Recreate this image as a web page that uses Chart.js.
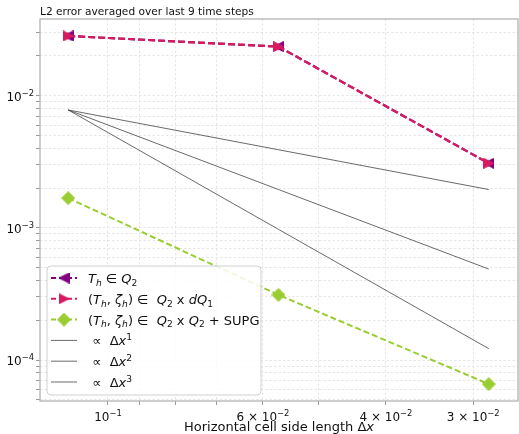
<!DOCTYPE html>
<html>
<head>
<meta charset="utf-8">
<script src="https://cdn.jsdelivr.net/npm/chart.js@4/dist/chart.umd.min.js"></script>
<style>
  body { margin: 0; background: #fff; }
  #wrap { width: 519px; height: 434px; }
</style>
</head>
<body>
<div id="wrap"><canvas id="grafico" width="519" height="434"></canvas></div>
<script>
// cell size and L2 errors
const dx = [0.114, 0.057, 0.0285];
const errQ2 = [0.0283, 0.0235, 0.00308];
const errDQ1 = [0.0283, 0.0235, 0.00308];
const errSUPG = [0.00168, 0.000311, 0.0000658];
// reference slopes
const slope1 = [0.0078, 0.0039, 0.00195];
const slope2 = [0.0078, 0.00195, 0.000488];
const slope3 = [0.0078, 0.000975, 0.000122];

const xTicks = [0.03, 0.04, 0.05, 0.06, 0.07, 0.08, 0.09, 0.1];
const xTickLabels = [[0.1, "10", "−1"], [0.06, "6 × 10", "−2"], [0.04, "4 × 10", "−2"], [0.03, "3 × 10", "−2"]];
const yTicks = [5e-5, 6e-5, 7e-5, 8e-5, 9e-5,
  1e-4, 2e-4, 3e-4, 4e-4, 5e-4, 6e-4, 7e-4, 8e-4, 9e-4,
  1e-3, 2e-3, 3e-3, 4e-3, 5e-3, 6e-3, 7e-3, 8e-3, 9e-3,
  1e-2, 2e-2, 3e-2];
const yTickLabels = [[1e-4, "10", "−4"], [1e-3, "10", "−3"], [1e-2, "10", "−2"]];

const PURPLE = "#800080";
const PINK = "#d81b60";
const GREEN = "#9acd32";
const FONT = "DejaVu Sans";

const pts = (xs, ys) => xs.map((x, i) => ({ x: x, y: ys[i] }));

// matplotlib-like markers: full-base triangles and a diamond
function marker(kind, color, size) {
  const c = document.createElement("canvas");
  c.width = size; c.height = size;
  const g = c.getContext("2d");
  const s = size, m = 0.5;
  g.beginPath();
  if (kind === "<") { g.moveTo(m, s / 2); g.lineTo(s - m, m); g.lineTo(s - m, s - m); }
  else if (kind === ">") { g.moveTo(s - m, s / 2); g.lineTo(m, m); g.lineTo(m, s - m); }
  else { g.moveTo(s / 2, m); g.lineTo(s - m, s / 2); g.lineTo(s / 2, s - m); g.lineTo(m, s / 2); }
  g.closePath();
  g.fillStyle = color;
  g.fill();
  g.strokeStyle = color;
  g.lineWidth = 1;
  g.stroke();
  return c;
}

const mkLeft = marker("<", PURPLE, 11);
const mkRight = marker(">", PINK, 11);
const mkDiamond = marker("D", GREEN, 14);

// legend rows: handle + label pieces ("i" italic, "_" subscript, "^" superscript)
const legendRows = [
  { color: PURPLE, dash: [5, 3], width: 2, mk: mkLeft,
    text: [["T", "i"], ["h", "i_"], [" ∈ ", ""], ["Q", "i"], ["2", "_"]] },
  { color: PINK, dash: [5, 3], width: 2, mk: mkRight,
    text: [["(", ""], ["T", "i"], ["h", "i_"], [", ", ""], ["ζ", "i"], ["h", "i_"], [") ∈  ", ""], ["Q", "i"], ["2", "_"], [" x ", ""], ["d", "i"], ["Q", "i"], ["1", "_"]] },
  { color: GREEN, dash: [5, 3], width: 2, mk: mkDiamond,
    text: [["(", ""], ["T", "i"], ["h", "i_"], [", ", ""], ["ζ", "i"], ["h", "i_"], [") ∈  ", ""], ["Q", "i"], ["2", "_"], [" x ", ""], ["Q", "i"], ["2", "_"], [" + SUPG", ""]] },
  { color: "#444", dash: [], width: 0.8, mk: null,
    text: [[" ∝  ", ""], ["Δ", ""], ["x", "i"], ["1", "^"]] },
  { color: "#444", dash: [], width: 0.8, mk: null,
    text: [[" ∝  ", ""], ["Δ", ""], ["x", "i"], ["2", "^"]] },
  { color: "#444", dash: [], width: 0.8, mk: null,
    text: [[" ∝  ", ""], ["Δ", ""], ["x", "i"], ["3", "^"]] },
];

function pieceFont(kind, size) {
  const small = kind.includes("_") || kind.includes("^");
  const s = small ? size * 0.7 : size;
  return (kind.includes("i") ? "italic " : "") + s + "px " + FONT;
}

function mathWidth(ctx, parts, size) {
  let w = 0;
  parts.forEach(([t, k]) => { ctx.font = pieceFont(k, size); w += ctx.measureText(t).width; });
  return w;
}

function drawMath(ctx, parts, x, y, size, align) {
  let cx = x;
  if (align === "center") cx = x - mathWidth(ctx, parts, size) / 2;
  if (align === "right") cx = x - mathWidth(ctx, parts, size);
  ctx.textAlign = "left";
  ctx.textBaseline = "alphabetic";
  parts.forEach(([t, k]) => {
    ctx.font = pieceFont(k, size);
    let dy = 0;
    if (k.includes("_")) dy = size * 0.22;
    if (k.includes("^")) dy = -size * 0.42;
    ctx.fillText(t, cx, y + dy);
    cx += ctx.measureText(t).width;
  });
}

const extras = {
  id: "extras",
  afterDraw(chart) {
    const ctx = chart.ctx;
    const a = chart.chartArea;
    const xs = chart.scales.x, ys = chart.scales.y;
    ctx.save();
    // frame
    ctx.strokeStyle = "#b3b3b3";
    ctx.lineWidth = 1.3;
    ctx.strokeRect(a.left, a.top, a.right - a.left, a.bottom - a.top);

    ctx.fillStyle = "#111";
    xTickLabels.forEach(([v, base, exp]) => {
      drawMath(ctx, [[base, ""], [exp, "^"]], xs.getPixelForValue(v), a.bottom + 20, 12, "center");
    });
    yTickLabels.forEach(([v, base, exp]) => {
      drawMath(ctx, [[base, ""], [exp, "^"]], a.left - 6, ys.getPixelForValue(v) + 5, 12, "right");
    });

    // axis title and chart title
    drawMath(ctx, [["Horizontal cell side length Δ", ""], ["x", "i"]], (a.left + a.right) / 2, 431, 13, "center");
    ctx.font = "10.6px " + FONT;
    ctx.fillText("L2 error averaged over last 9 time steps", a.left, 15);

    // legend box
    const bx = 47, by = 266, bw = 214, bh = 129;
    ctx.beginPath();
    ctx.roundRect(bx, by, bw, bh, 4);
    ctx.fillStyle = "rgba(255,255,255,0.85)";
    ctx.fill();
    ctx.strokeStyle = "#d0d0d0";
    ctx.lineWidth = 1;
    ctx.stroke();

    legendRows.forEach((row, i) => {
      const y = 278 + i * 20.8;
      ctx.save();
      ctx.strokeStyle = row.color;
      ctx.lineWidth = row.width;
      ctx.setLineDash(row.dash);
      ctx.beginPath();
      ctx.moveTo(51, y);
      ctx.lineTo(77, y);
      ctx.stroke();
      ctx.restore();
      if (row.mk) ctx.drawImage(row.mk, 64 - row.mk.width / 2, y - row.mk.height / 2);
      ctx.fillStyle = "#111";
      drawMath(ctx, row.text, 88, y + 5, 13, "left");
    });
    ctx.restore();
  }
};

const serie = (data, color, mk, dash, width, order) => ({
  data: data,
  borderColor: color,
  backgroundColor: color,
  borderWidth: width,
  borderDash: dash,
  pointStyle: mk,
  pointRadius: mk ? 6 : 0,
  pointHoverRadius: mk ? 6 : 0,
  tension: 0,
  fill: false,
  order: order,
});

new Chart(document.getElementById("grafico"), {
  type: "line",
  data: {
    datasets: [
      serie(pts(dx, errQ2), PURPLE, mkLeft, [7, 3], 2.2, 3),
      serie(pts(dx, errDQ1), PINK, mkRight, [7, 3], 2.2, 2),
      serie(pts(dx, errSUPG), GREEN, mkDiamond, [6, 3], 2, 1),
      serie(pts(dx, slope1), "#444", false, [], 0.8, 4),
      serie(pts(dx, slope2), "#444", false, [], 0.8, 4),
      serie(pts(dx, slope3), "#444", false, [], 0.8, 4),
    ],
  },
  options: {
    responsive: false,
    animation: false,
    layout: { autoPadding: false, padding: { top: 19, right: 1, left: 0, bottom: 0 } },
    plugins: { legend: { display: false }, tooltip: { enabled: false } },
    scales: {
      x: {
        type: "logarithmic",
        reverse: true,
        min: 0.02588,
        max: 0.1251,
        afterBuildTicks: (s) => { s.ticks = xTicks.map((v) => ({ value: v })); },
        afterFit: (s) => { s.height = 33; },
        ticks: { display: false },
        grid: { color: "#e6e6e6", lineWidth: 1, tickColor: "#999", tickLength: 4, tickBorderDash: [] },
        border: { display: false, dash: [2.5, 2] },
      },
      y: {
        type: "logarithmic",
        min: 4.9e-5,
        max: 0.03803,
        afterBuildTicks: (s) => { s.ticks = yTicks.map((v) => ({ value: v })); },
        afterFit: (s) => { s.width = 40; },
        ticks: { display: false },
        grid: { color: "#e6e6e6", lineWidth: 1, tickColor: "#999", tickLength: 4, tickBorderDash: [] },
        border: { display: false, dash: [2.5, 2] },
      },
    },
  },
  plugins: [extras],
});
</script>
</body>
</html>
